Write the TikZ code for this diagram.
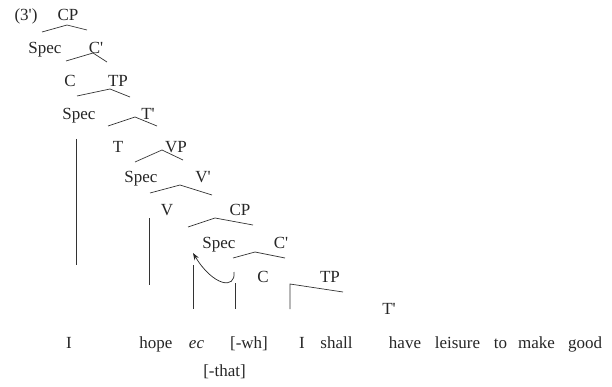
\documentclass[tikz,border=0pt]{standalone}
\usepackage{fontspec}
\setmainfont{Liberation Serif}[Ligatures=TeXOff]
\usetikzlibrary{arrows.meta}
\begin{document}
\begin{tikzpicture}[x=1pt,y=-1pt,
  lbl/.style={anchor=base,inner sep=0pt,font=\fontsize{17}{20}\selectfont,text=black!85},
  br/.style={draw=black!80,line width=0.7pt},
  arr/.style={draw=black!85,line width=0.7pt,-{Stealth[length=7pt,width=5pt]}}]
\useasboundingbox (0,0) rectangle (612,387);
% labels
\node[lbl] (ex) at (26,21) {(3')};
\node[lbl] (cp1) at (68,21) {CP};
\node[lbl] (spec2) at (45,54) {Spec};
\node[lbl] (cbar2) at (96,54) {C'};
\node[lbl] (c3) at (70,87) {C};
\node[lbl] (tp3) at (118,87) {TP};
\node[lbl] (spec4) at (79,120) {Spec};
\node[lbl] (tbar4) at (148,120) {T'};
\node[lbl] (t5) at (118,153) {T};
\node[lbl] (vp5) at (176,153) {VP};
\node[lbl] (spec6) at (141,183) {Spec};
\node[lbl] (vbar6) at (203,183) {V'};
\node[lbl] (v7) at (167,215) {V};
\node[lbl] (cp7) at (240,215) {CP};
\node[lbl] (spec8) at (219,248) {Spec};
\node[lbl] (cbar8) at (281,248) {C'};
\node[lbl] (c9) at (263,282) {C};
\node[lbl] (tp9) at (330,282) {TP};
\node[lbl] (tbar10) at (389,314) {T'};
% words
\node[lbl] (wI) at (69,348) {I};
\node[lbl] (whope) at (156,348) {hope};
\node[lbl] (wec) at (196.5,348) {\itshape ec};
\node[lbl] (wwh) at (249,348) {[-wh]};
\node[lbl] (wI2) at (302,348) {I};
\node[lbl] (wshall) at (336.5,348) {shall};
\node[lbl] (whave) at (405,348) {have};
\node[lbl] (wleisure) at (457.5,348) {leisure};
\node[lbl] (wto) at (500.5,348) {to};
\node[lbl] (wmake) at (536.5,348) {make};
\node[lbl] (wgood) at (585,348) {good};
\node[lbl] (wthat) at (224.5,376) {[-that]};
% branches
\draw[br] (42,32) -- (67,25) -- (87,30);
\draw[br] (66,61) -- (93,53) -- (107,62);
\draw[br] (77,96) -- (110,89) -- (130,97);
\draw[br] (108,126) -- (135,117) -- (157,126);
\draw[br] (135,162) -- (162,150) -- (183,160);
\draw[br] (150,193) -- (180,185) -- (212,195);
\draw[br] (188,227) -- (215,218) -- (253,225);
\draw[br] (233,258) -- (255,252) -- (285,258);
\draw[br] (290,309) -- (290,284) -- (343,292);
% verticals
\draw[br] (76,139) -- (76,265);
\draw[br] (149,218) -- (149,285);
\draw[br] (193,265) -- (193,309);
\draw[br] (235,283) -- (235,309);
% movement arrow
\coordinate (mvfrom) at (234,272);
\coordinate (mvto) at (193,253);
\draw[arr] (mvfrom) .. controls (236,290) and (213,286) .. (mvto);
\end{tikzpicture}
\end{document}
